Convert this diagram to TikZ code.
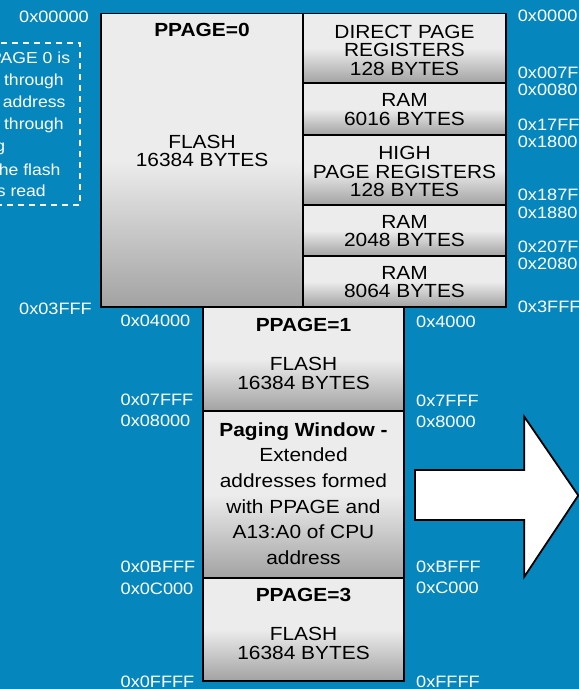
\documentclass[tikz,border=0pt]{standalone}
\usepackage{fontspec}
\setmainfont{Liberation Sans}[FakeStretch=1.1]
\definecolor{bgblue}{HTML}{0586BD}
\definecolor{shlight}{HTML}{ECECEC}
\definecolor{shdark}{HTML}{A2A2A2}
% light on the upper half, darkening towards the bottom edge
\pgfdeclareverticalshading{memshade}{100bp}{color(0bp)=(shdark); color(25bp)=(shdark); color(50bp)=(shlight); color(100bp)=(shlight)}
\tikzset{
  membox/.style={draw=black, line width=1.8pt, shading=memshade},
  boxtext/.style={inner sep=0pt, align=center, font=\fontsize{19}{18.6}\selectfont, text=black},
  boldtext/.style={inner sep=0pt, font=\fontsize{19}{19}\selectfont\bfseries, text=black},
  addr/.style={inner sep=0pt, anchor=west, font=\fontsize{16.5}{16.5}\selectfont, text=white},
  noteline/.style={inner sep=0pt, anchor=base east, font=\fontsize{16}{22}\selectfont, text=white},
}
\begin{document}
\begin{tikzpicture}[x=1pt,y=-1pt]
\useasboundingbox (0,0) rectangle (579,689);
\fill[bgblue] (0,0) rectangle (579,689);
\clip (0,0) rectangle (579,689);

% PPAGE 0 flash and the direct-page column beside it
\draw[membox] (101,13.5) rectangle (303,307);
\draw[membox] (303,13.5) rectangle (506,83);
\draw[membox] (303,83) rectangle (506,135);
\draw[membox] (303,135) rectangle (506,205);
\draw[membox] (303,205) rectangle (506,256);
\draw[membox] (303,256) rectangle (506,307);

% paged column
\draw[membox] (203,307) rectangle (404,411);
\draw[membox] (203,411) rectangle (404,578);
\draw[membox] (203,578) rectangle (404,681);

\node[boldtext] (p0) at (202,29.7) {PPAGE=0};
\node[boxtext] (f0) at (202,151) {FLASH\\16384 BYTES};
\node[boxtext] (dpr) at (404.5,50.1) {DIRECT PAGE\\REGISTERS\\128 BYTES};
\node[boxtext] (ram1) at (404.5,109.8) {RAM\\6016 BYTES};
\node[boxtext] (hpr) at (404.5,171.7) {HIGH\\PAGE REGISTERS\\128 BYTES};
\node[boxtext] (ram2) at (404.5,231.2) {RAM\\2048 BYTES};
\node[boxtext] (ram3) at (404.5,281.9) {RAM\\8064 BYTES};

\node[boldtext] (p1) at (303.5,324.5) {PPAGE=1};
\node[boxtext] (f1) at (303.5,373.4) {FLASH\\16384 BYTES};
\node[boxtext, font=\fontsize{19}{25.6}\selectfont] (win) at (303.5,493.5)
  {\textbf{Paging Window -}\\Extended\\addresses formed\\with PPAGE and\\A13:A0 of CPU\\address};
\node[boldtext] (p3) at (303.5,594.7) {PPAGE=3};
\node[boxtext] (f3) at (303.5,643.4) {FLASH\\16384 BYTES};

% extended addresses, left side
\node[addr] (a00000) at (19,16.7) {0x00000};
\node[addr] (a03fff) at (19,308.8) {0x03FFF};
\node[addr] (a04000) at (120.5,320.8) {0x04000};
\node[addr] (a07fff) at (120.5,400.3) {0x07FFF};
\node[addr] (a08000) at (120.5,421) {0x08000};
\node[addr] (a0bfff) at (120.5,567) {0x0BFFF};
\node[addr] (a0c000) at (120.5,588.7) {0x0C000};
\node[addr] (a0ffff) at (120.5,681.5) {0x0FFFF};

% CPU addresses, right side
\node[addr] (c0000) at (517.7,16) {0x0000};
\node[addr] (c007f) at (517.7,72.7) {0x007F};
\node[addr] (c0080) at (517.7,90) {0x0080};
\node[addr] (c17ff) at (517.7,125) {0x17FF};
\node[addr] (c1800) at (517.7,142) {0x1800};
\node[addr] (c187f) at (517.7,195) {0x187F};
\node[addr] (c1880) at (517.7,212.8) {0x1880};
\node[addr] (c207f) at (517.7,247) {0x207F};
\node[addr] (c2080) at (517.7,264) {0x2080};
\node[addr] (c3fff) at (517.7,307) {0x3FFF};
\node[addr] (c4000) at (416,321.5) {0x4000};
\node[addr] (c7fff) at (416,401.3) {0x7FFF};
\node[addr] (c8000) at (416,421.7) {0x8000};
\node[addr] (cbfff) at (416,567) {0xBFFF};
\node[addr] (cc000) at (416,588) {0xC000};
\node[addr] (cffff) at (416,681.5) {0xFFFF};

% note on PPAGE 0 access
\draw[white, line width=1.8pt, dash pattern=on 6pt off 5pt] (-10,43.3) -- (80.3,43.3) -- (80.3,205) -- (-10,205);
\node[noteline] (n1) at (70.3,63.3) {PPAGE 0 is};
\node[noteline] (n2) at (64,85.3) {accessible through};
\node[noteline] (n3) at (65.7,107) {the address};
\node[noteline] (n4) at (64,129.5) {range or through};
\node[noteline] (n5) at (5.5,151.5) {paging};
\node[noteline] (n6) at (60.7,175) {when the flash};
\node[noteline] (n7) at (46,196.7) {is read};

% paging arrow
\draw[fill=white, draw=black, line width=1.8pt, line join=miter]
  (415,470) -- (524.3,470) -- (524.3,416.7) -- (578.3,495.5)
  -- (524.3,576.7) -- (524.3,520) -- (415,520) -- cycle;
\end{tikzpicture}
\end{document}
